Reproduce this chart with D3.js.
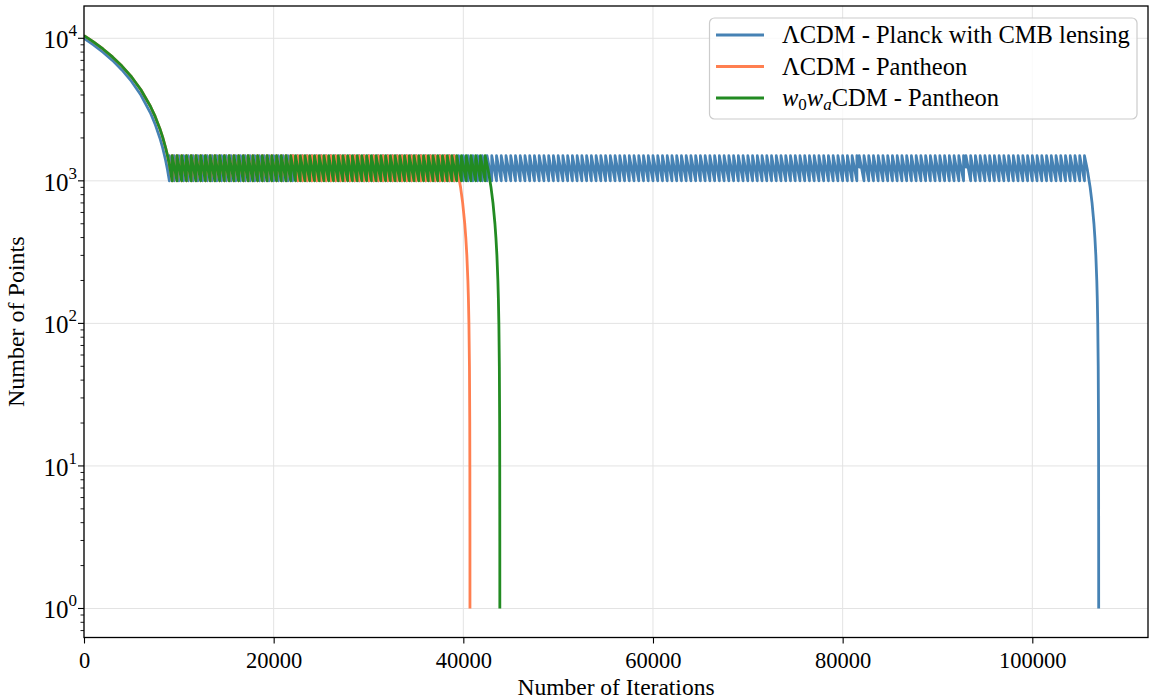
<!DOCTYPE html>
<html>
<head>
<meta charset="utf-8">
<script src="https://cdn.jsdelivr.net/npm/d3@7"></script>
<style>
  html, body { margin: 0; padding: 0; background: #fff; }
  svg { display: block; }
  text { font-family: "Liberation Serif", "Times New Roman", serif; fill: #000; }
</style>
</head>
<body>
<svg id="chart" width="1156" height="699"></svg>
<script>
// ---------------- DATA ----------------
const seriesNames = ["ΛCDM - Planck with CMB lensing", "ΛCDM - Pantheon", "w0waCDM - Pantheon"];

// initial decay of the number of live points
const blueDecayIter = [0, 1000, 2000, 3000, 4000, 5000, 6000, 7000, 7500, 8000, 8300, 8600, 8800, 9000];
const blueDecayN    = [10000, 9000, 8000, 7000, 6000, 5000, 4000, 3000, 2500, 2000, 1700, 1400, 1200, 1000];
const orangeDecayIter = [0, 1000, 2000, 3000, 4000, 5000, 6000, 7000, 7500, 8000, 8300, 8600, 8800, 9000, 9300];
const orangeDecayN    = [10450, 9434, 8418, 7402, 6386, 5369, 4354, 3338, 2830, 2322, 2016, 1711, 1508, 1305, 1000];
const greenDecayIter  = [0, 1000, 2000, 3000, 4000, 5000, 6000, 7000, 7500, 8000, 8300, 8600, 8800, 9000, 9300];
const greenDecayN     = [10450, 9434, 8418, 7402, 6386, 5369, 4354, 3338, 2830, 2322, 2016, 1711, 1508, 1305, 1000];

// sawtooth: iterations where new points are added (count jumps back to the top level)
const sawTop = 1500;
const sawLow = 1000;
const blueRefills = [
  9000, 9500, 10000, 10500, 11000, 11500, 12000, 12500, 13000, 13500,
  14000, 14500, 15000, 15500, 16000, 16500, 17000, 17500, 18000, 18500,
  19000, 19500, 20000, 20500, 21000, 21500, 22000, 22500, 23000, 23500,
  24000, 24500, 25000, 25500, 26000, 26500, 27000, 27500, 28000, 28500,
  29000, 29500, 30000, 30500, 31000, 31500, 32000, 32500, 33000, 33500,
  34000, 34500, 35000, 35500, 36000, 36500, 37000, 37500, 38000, 38500,
  39000, 39500, 40000, 40500, 41000, 41500, 42000, 42500, 43000, 43500,
  44000, 44500, 45000, 45500, 46000, 46500, 47000, 47500, 48000, 48500,
  49000, 49500, 50000, 50500, 51000, 51500, 52000, 52500, 53000, 53500,
  54000, 54500, 55000, 55500, 56000, 56500, 57000, 57500, 58000, 58500,
  59000, 59500, 60000, 60500, 61000, 61500, 62000, 62500, 63000, 63500,
  64000, 64500, 65000, 65500, 66000, 66500, 67000, 67500, 68000, 68500,
  69000, 69500, 70000, 70500, 71000, 71500, 72000, 72500, 73000, 73500,
  74000, 74500, 75000, 75500, 76000, 76500, 77000, 77500, 78000, 78500,
  79000, 79500, 80000, 80500, 81000, 81500, 81750, 82250, 82750, 83250,
  83750, 84250, 84750, 85250, 85750, 86250, 86750, 87250, 87750, 88250,
  88750, 89250, 89750, 90250, 90750, 91250, 91750, 92250, 92750, 93000,
  93500, 94000, 94500, 95000, 95500, 96000, 96500, 97000, 97500, 98000,
  98500, 99000, 99500, 100000, 100500, 101000, 101500, 102000, 102500, 103000,
  103500, 104000, 104500, 105000, 105500
];
const blueEarly = [[81750, 1250], [93000, 1250]];

const orangeRefills = [
  9300, 9800, 10300, 10800, 11300, 11800, 12300, 12800, 13300, 13800,
  14300, 14800, 15300, 15800, 16300, 16800, 17300, 17800, 18300, 18800,
  19300, 19800, 20300, 20800, 21300, 21800, 22050, 22550, 23050, 23550,
  24050, 24550, 25050, 25550, 26050, 26550, 27050, 27550, 28050, 28550,
  29050, 29550, 30050, 30550, 31050, 31550, 32050, 32550, 33050, 33550,
  34050, 34550, 35050, 35550, 36050, 36550, 37050, 37550, 38050, 38550,
  39050
];
const orangeEarly = [[22050, 1250]];

const greenRefills = [
  9300, 9800, 10300, 10800, 11300, 11800, 12300, 12800, 13300, 13800,
  14300, 14800, 15300, 15800, 16300, 16800, 17300, 17800, 18300, 18800,
  19300, 19800, 20300, 20800, 21300, 21800, 22300, 22800, 23300, 23800,
  24300, 24800, 25300, 25800, 26300, 26800, 27300, 27800, 28300, 28800,
  29300, 29800, 30300, 30800, 31300, 31800, 32300, 32800, 33300, 33800,
  34300, 34800, 35300, 35800, 36300, 36800, 37300, 37800, 38300, 38800,
  39300, 39800, 40300, 40800, 41300, 41800, 42300
];
const greenEarly = [];

// final drop to a single point
const blueDropIter = [105500, 105800, 106100, 106300, 106500, 106600, 106700, 106800, 106850, 106900, 106950, 106980, 106990, 106997, 107000];
const blueDropN    = [1500, 1200, 900, 700, 500, 400, 300, 200, 150, 100, 50, 20, 10, 3, 1];
const orangeDropIter = [39050, 39380, 39710, 39931, 40151, 40261, 40371, 40481, 40536, 40591, 40646, 40679, 40690, 40698, 40700];
const orangeDropN    = [1500, 1200, 900, 700, 500, 400, 300, 200, 150, 100, 50, 20, 10, 3, 1];
const greenDropIter  = [42300, 42610, 42920, 43127, 43334, 43437, 43541, 43644, 43696, 43748, 43799, 43830, 43841, 43848, 43850];
const greenDropN     = [1500, 1200, 900, 700, 500, 400, 300, 200, 150, 100, 50, 20, 10, 3, 1];

const xTicks = [0, 20000, 40000, 60000, 80000, 100000];
const yTicks = [1, 10, 100, 1000, 10000];
const yTickExp = ["0", "1", "2", "3", "4"];

// ---------------- BUILD SERIES ----------------
function buildSeries(decI, decN, refills, early, dropI, dropN) {
  const pts = decI.map((x, i) => [x, decN[i]]);
  const earlyMap = new Map(early);
  refills.forEach((r, i) => {
    const low = earlyMap.has(r) ? earlyMap.get(r) : sawLow;
    if (i > 0) pts.push([r, low]);
    if (i < refills.length - 1) pts.push([r, sawTop]);
  });
  dropI.forEach((x, i) => pts.push([x, dropN[i]]));
  return pts;
}
const series = [
  { name: seriesNames[0], color: "#4682b4",
    pts: buildSeries(blueDecayIter, blueDecayN, blueRefills, blueEarly, blueDropIter, blueDropN) },
  { name: seriesNames[1], color: "#ff7f50",
    pts: buildSeries(orangeDecayIter, orangeDecayN, orangeRefills, orangeEarly, orangeDropIter, orangeDropN) },
  { name: seriesNames[2], color: "#228b22",
    pts: buildSeries(greenDecayIter, greenDecayN, greenRefills, greenEarly, greenDropIter, greenDropN) }
];

// ---------------- LAYOUT ----------------
const svg = d3.select("#chart");
const L = 84, R = 1148, T = 6, B = 637.5;
const x = d3.scaleLinear().domain([0, 112200]).range([L, R]);
const y = d3.scaleLog().domain([Math.pow(10, -0.2035), Math.pow(10, 4.2265)]).range([B, T]);

const clipId = "plotclip";
svg.append("defs").append("clipPath").attr("id", clipId)
  .append("rect").attr("x", L).attr("y", T).attr("width", R - L).attr("height", B - T);

// grid
const grid = svg.append("g");
grid.selectAll("line.gx").data(xTicks).enter().append("line")
  .attr("x1", d => x(d)).attr("x2", d => x(d)).attr("y1", T).attr("y2", B)
  .attr("stroke", "#e3e3e3").attr("stroke-width", 1);
grid.selectAll("line.gy").data(yTicks).enter().append("line")
  .attr("x1", L).attr("x2", R).attr("y1", d => y(d)).attr("y2", d => y(d))
  .attr("stroke", "#e3e3e3").attr("stroke-width", 1);

// lines
const line = d3.line().x(d => x(d[0])).y(d => y(d[1]));
const lg = svg.append("g").attr("clip-path", `url(#${clipId})`);
series.forEach(s => {
  lg.append("path").datum(s.pts).attr("d", line)
    .attr("fill", "none").attr("stroke", s.color).attr("stroke-width", 2.8)
    .attr("stroke-linejoin", "round");
});

// axes
const xAxis = d3.axisBottom(x).tickValues(xTicks).tickSize(6).tickFormat(d3.format("d"));
const gx = svg.append("g").attr("transform", `translate(0,${B})`).call(xAxis);
gx.select(".domain").remove();
gx.selectAll(".tick line").attr("stroke", "#000").attr("stroke-width", 1.1);
gx.selectAll(".tick text").attr("font-size", 22.5).attr("font-family", "Liberation Serif")
  .attr("y", 0).attr("dy", null).attr("transform", "translate(0,30.5)");

// y ticks
const minorVals = [];
[-1, 0, 1, 2, 3, 4].forEach(e => { for (let m = 2; m <= 9; m++) minorVals.push(m * Math.pow(10, e)); });
const yDom = y.domain();
const gy = svg.append("g");
gy.selectAll("line.minor").data(minorVals.filter(v => v >= yDom[0] && v <= yDom[1])).enter().append("line")
  .attr("x1", L - 3.5).attr("x2", L).attr("y1", d => y(d)).attr("y2", d => y(d))
  .attr("stroke", "#000").attr("stroke-width", 0.9);
gy.selectAll("line.major").data(yTicks).enter().append("line")
  .attr("x1", L - 6).attr("x2", L).attr("y1", d => y(d)).attr("y2", d => y(d))
  .attr("stroke", "#000").attr("stroke-width", 1.1);
const yl = gy.selectAll("text.yl").data(yTicks).enter().append("text")
  .attr("x", L - 7).attr("y", d => y(d) + 10).attr("text-anchor", "end")
  .attr("font-size", 25);
yl.append("tspan").text("10");
yl.append("tspan").attr("dy", -12).attr("font-size", 17).text((d, i) => yTickExp[i]);

// frame
svg.append("rect").attr("x", L).attr("y", T).attr("width", R - L).attr("height", B - T)
  .attr("fill", "none").attr("stroke", "#000").attr("stroke-width", 1.3);

// axis labels
svg.append("text").attr("x", (L + R) / 2).attr("y", 694.5).attr("text-anchor", "middle")
  .attr("font-size", 23.5).text("Number of Iterations");
svg.append("text").attr("transform", `translate(24,${(T + B) / 2}) rotate(-90)`)
  .attr("text-anchor", "middle").attr("font-size", 24).text("Number of Points");

// legend
const leg = svg.append("g");
leg.append("rect").attr("x", 709.5).attr("y", 18).attr("width", 427.5).attr("height", 101)
  .attr("rx", 5).attr("fill", "#fff").attr("fill-opacity", 0.8)
  .attr("stroke", "#cccccc").attr("stroke-width", 1.2);
const rowY = [35, 66.5, 98];
series.forEach((s, i) => {
  leg.append("line").attr("x1", 716).attr("x2", 764).attr("y1", rowY[i]).attr("y2", rowY[i])
    .attr("stroke", s.color).attr("stroke-width", 2.8);
  const t = leg.append("text").attr("x", 782).attr("y", rowY[i] + 8).attr("font-size", 24.5);
  if (i < 2) {
    t.text(s.name);
  } else {
    t.append("tspan").attr("font-style", "italic").text("w");
    t.append("tspan").attr("font-size", 17).attr("dy", 4).text("0");
    t.append("tspan").attr("font-style", "italic").attr("dy", -4).text("w");
    t.append("tspan").attr("font-size", 17).attr("font-style", "italic").attr("dy", 4).text("a");
    t.append("tspan").attr("dy", -4).text("CDM - Pantheon");
  }
});
</script>
</body>
</html>
